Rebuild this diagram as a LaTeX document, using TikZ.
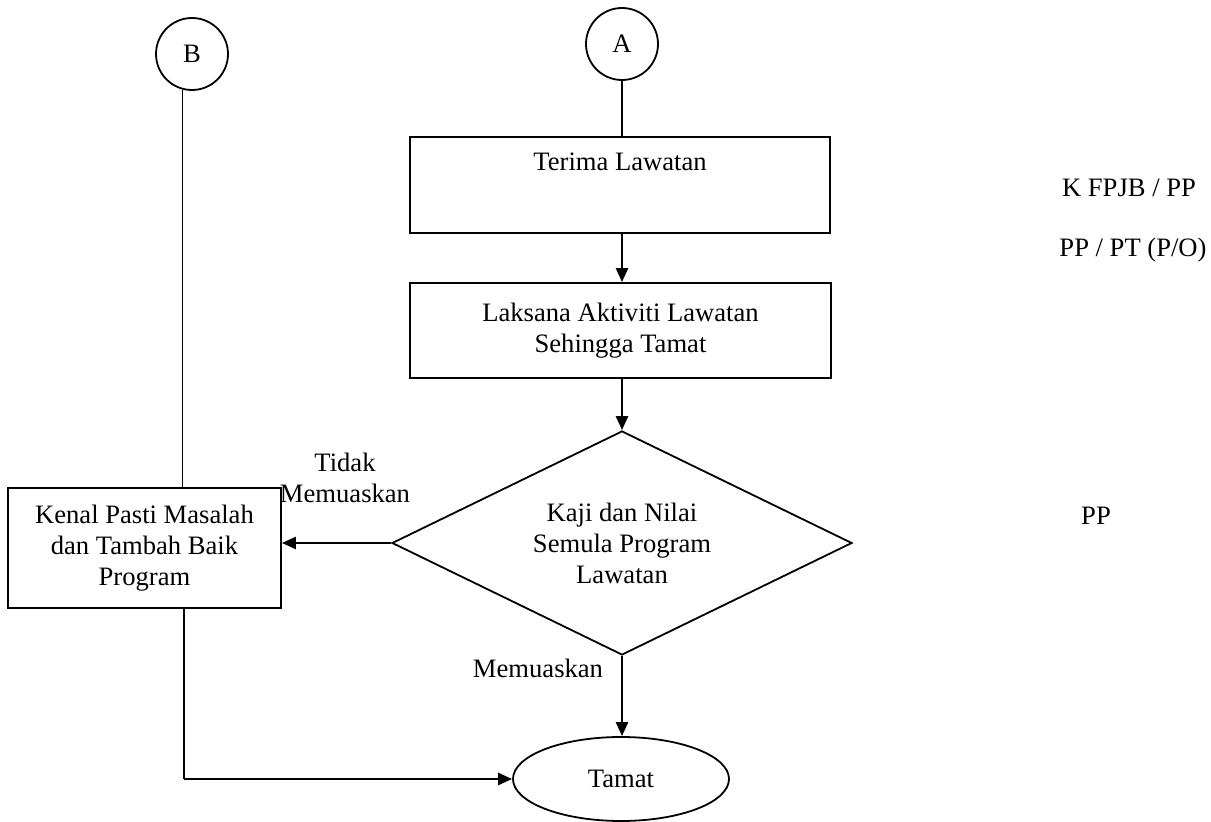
\documentclass[tikz,border=0pt]{standalone}
\usepackage{fontspec}
\setmainfont{Liberation Serif}
\usetikzlibrary{shapes.geometric,arrows.meta}
\begin{document}
\begin{tikzpicture}[x=0.5pt,y=-0.5pt,
  every node/.style={font=\fontsize{13.3}{15.5}\selectfont, align=center},
  boxnode/.style={draw, line width=0.9pt, rectangle, inner sep=0pt},
  conn/.style={draw, line width=0.9pt},
  link/.style={line width=1.3pt, -{Triangle[length=7pt,width=6pt]}},
  ringnode/.style={draw, line width=0.9pt, circle, minimum size=36pt, inner sep=0pt},
  plain/.style={inner sep=0pt}]
\useasboundingbox (0,0) rectangle (1211,822);
\node[ringnode] (B) at (192,54) {B};
\node[ringnode] (A) at (622,44) {A};
\node[boxnode, minimum width=210pt, minimum height=48pt,
  label={[anchor=center,yshift=-13pt,font=\fontsize{13.3}{15.5}\selectfont]north:Terima Lawatan}] (t1) at (620,185) {};
\node[boxnode, minimum width=210.5pt, minimum height=47.5pt] (t2) at (620.5,330.5) {Laksana Aktiviti Lawatan\\Sehingga Tamat};
\node[draw, line width=0.9pt, diamond, aspect=2, minimum width=230pt, minimum height=112pt, inner sep=0pt] (d) at (622,543) {Kaji dan Nilai\\Semula Program\\Lawatan};
\node[boxnode, minimum width=136.5pt, minimum height=60pt] (K) at (144.5,548) {Kenal Pasti Masalah\\dan Tambah Baik\\Program};
\node[draw, line width=0.9pt, ellipse, minimum width=108pt, minimum height=42pt, inner sep=0pt] (T) at (621,779) {Tamat};
\coordinate (c1) at (184,779);
\coordinate (bl) at (B.255);
\coordinate (ax) at (622,0);
% lines
\draw[conn] (A.south) -- (A.south |- t1.north);
\draw[link] (t1.south -| ax) -- (t2.north -| ax);
\draw[link] (t2.south -| ax) -- (d.north -| ax);
\draw[link] (d.west) -- (d.west -| K.east);
\draw[link] (d.south) -- (d.south |- T.north);
\draw[conn] (bl) -- (bl |- K.north);
\draw[conn] (K.south -| c1) -- (c1);
\draw[link] (c1) -- (T.west);
% labels
\node[plain] (l1) at (345,478) {Tidak\\Memuaskan};
\node[plain] (l2) at (538,668) {Memuaskan};
\node[plain] (r1) at (1129,188) {K FPJB / PP};
\node[plain] (r2) at (1133,250) {PP / PT (P/O)};
\node[plain] (r3) at (1096,516) {PP};
\end{tikzpicture}
\end{document}
